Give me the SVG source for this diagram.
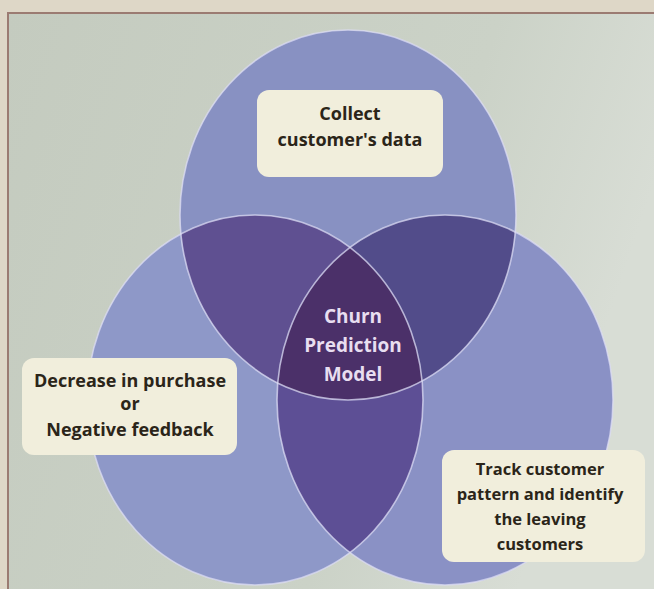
<svg xmlns="http://www.w3.org/2000/svg" width="654" height="589" viewBox="0 0 654 589">
<style>
.lbl{font-family:"Open Sans","DejaVu Sans",sans-serif;font-weight:700;fill:#2b2519;text-anchor:middle}
.ctr{font-family:"Open Sans","DejaVu Sans",sans-serif;font-weight:700;fill:#e8def0;text-anchor:middle;font-size:19px}
.box{fill:#f1eedc}
.edge{fill:none;stroke:#dcdcf4;stroke-opacity:0.75;stroke-width:1.6}
</style>
<defs>
<linearGradient id="bg" x1="0" y1="0" x2="1" y2="0.3">
<stop offset="0" stop-color="#c4cbbf"/>
<stop offset="0.7" stop-color="#cbd2c7"/>
<stop offset="1" stop-color="#d8ddd5"/>
</linearGradient>
<ellipse id="eT" cx="348" cy="215" rx="168" ry="185"/>
<ellipse id="eL" cx="255" cy="400" rx="168" ry="185"/>
<ellipse id="eR" cx="445" cy="400" rx="168" ry="185"/>
<clipPath id="cT"><use href="#eT"/></clipPath>
<clipPath id="cL"><use href="#eL"/></clipPath>
<clipPath id="cR"><use href="#eR"/></clipPath>
</defs>
<rect x="0" y="0" width="654" height="589" fill="#ded7c7"/>
<rect x="8" y="13" width="646" height="576" fill="url(#bg)"/>
<path d="M8,589 V13 H654" fill="none" stroke="#9b7b72" stroke-width="2"/>
<g id="venn">
<use href="#eL" fill="#8e98c8"/>
<use href="#eR" fill="#8a91c5"/>
<use href="#eT" fill="#8891c2"/>
<use href="#eL" fill="#5f5091" clip-path="url(#cT)"/>
<use href="#eR" fill="#524c8a" clip-path="url(#cT)"/>
<use href="#eR" fill="#5d4f95" clip-path="url(#cL)"/>
<g clip-path="url(#cT)"><use href="#eR" fill="#4b3069" clip-path="url(#cL)"/></g>
<use href="#eT" class="edge"/>
<use href="#eL" class="edge"/>
<use href="#eR" class="edge"/>
</g>
<g id="node-collect">
<rect class="box" x="257" y="90" width="186" height="87" rx="12"/>
<text class="lbl" font-size="18" x="350" y="120">Collect</text>
<text class="lbl" font-size="18" x="350" y="146">customer's data</text>
</g>
<g id="node-decrease">
<rect class="box" x="22" y="358" width="215" height="97" rx="12"/>
<text class="lbl" font-size="18" x="130" y="387">Decrease in purchase</text>
<text class="lbl" font-size="18" x="130" y="410">or</text>
<text class="lbl" font-size="18" x="130" y="436">Negative feedback</text>
</g>
<g id="node-track">
<rect class="box" x="442" y="450" width="203" height="112" rx="12"/>
<text class="lbl" font-size="16.5" x="540" y="475">Track customer</text>
<text class="lbl" font-size="16.5" x="540" y="500">pattern and identify</text>
<text class="lbl" font-size="16.5" x="540" y="525">the leaving</text>
<text class="lbl" font-size="16.5" x="540" y="550">customers</text>
</g>
<g id="node-churn">
<text class="ctr" x="353" y="323">Churn</text>
<text class="ctr" x="353" y="352">Prediction</text>
<text class="ctr" x="353" y="381">Model</text>
</g>
<g id="connectors"/>
</svg>
